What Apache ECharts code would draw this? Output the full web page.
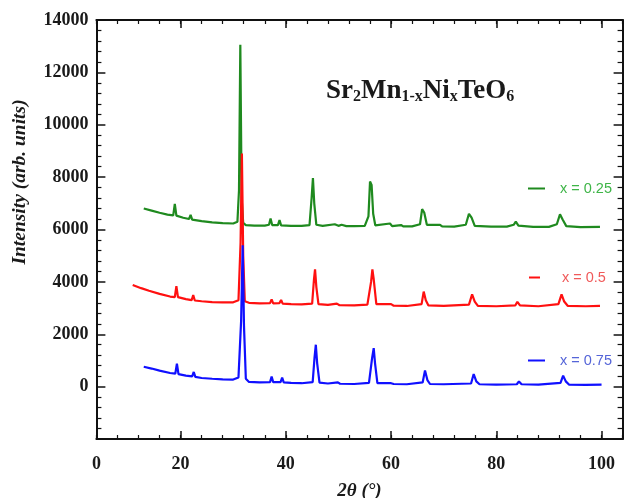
<!DOCTYPE html>
<html>
<head>
<meta charset="utf-8">
<script src="https://cdn.jsdelivr.net/npm/echarts@6/dist/echarts.min.js"></script>
<style>html,body{margin:0;padding:0;background:#fff}#c{width:629px;height:498px}</style>
</head>
<body>
<div id="c"></div>
<script>
// 2θ (deg), intensity pairs
const x025 = [[13.0,6800],[14.5,6720],[16,6640],[17.5,6570],[18.6,6540],[18.9,6980],[19.2,6530],[20.5,6450],[21.6,6400],[21.9,6560],[22.2,6380],[24,6320],[26,6270],[28,6240],[30,6230],[30.8,6300],[31.1,7500],[31.35,13050],[31.6,7200],[31.9,6250],[32.4,6170],[34,6150],[36,6150],[36.8,6180],[37.1,6420],[37.4,6170],[38.5,6170],[38.8,6360],[39.1,6160],[41,6140],[43,6140],[44.5,6170],[44.9,7200],[45.15,7960],[45.4,7000],[45.8,6180],[47,6140],[49.3,6200],[50,6140],[50.6,6180],[51.5,6130],[53,6130],[55,6140],[55.7,6500],[56.0,7830],[56.3,7700],[56.6,6600],[57,6160],[59.8,6230],[60.2,6130],[61.9,6170],[62.3,6120],[64,6120],[65.5,6200],[65.9,6780],[66.3,6650],[66.8,6180],[69.3,6180],[69.7,6120],[72,6110],[74.2,6180],[74.8,6600],[75.3,6450],[75.9,6140],[79,6110],[82,6110],[83.3,6180],[83.7,6300],[84.2,6150],[87,6100],[90,6100],[91.5,6200],[92.1,6580],[92.6,6380],[93.3,6130],[96,6090],[99.7,6100]];
const x050 = [[10.9,3880],[12.5,3760],[14,3660],[16,3540],[18,3440],[18.9,3420],[19.2,3840],[19.5,3420],[21,3340],[22.1,3300],[22.4,3500],[22.7,3290],[24,3260],[26,3230],[28,3220],[30,3220],[31,3300],[31.4,5500],[31.65,8900],[31.9,5000],[32.2,3260],[33,3200],[35,3180],[37.0,3190],[37.3,3330],[37.6,3180],[38.8,3190],[39.1,3310],[39.4,3170],[41,3150],[43,3140],[45,3170],[45.35,4100],[45.55,4480],[45.8,3800],[46.2,3150],[48,3120],[49.7,3170],[50.2,3110],[53,3100],[55.5,3130],[56.2,4000],[56.45,4480],[56.7,4100],[57.2,3150],[60,3150],[60.5,3090],[63,3080],[65.8,3150],[66.2,3630],[66.6,3300],[67.1,3100],[70,3080],[74.8,3130],[75.4,3520],[75.9,3250],[76.5,3080],[80,3070],[83.6,3100],[84.0,3240],[84.5,3100],[88,3070],[91.8,3150],[92.4,3520],[92.9,3250],[93.6,3080],[97,3070],[99.7,3080]];
const x075 = [[13,760],[14.5,690],[16,610],[18,520],[19.0,500],[19.3,880],[19.6,480],[21,420],[22.2,390],[22.5,560],[22.8,370],[24,330],[26,300],[28,280],[30,270],[31.0,350],[31.5,2500],[31.8,5400],[32.05,2300],[32.4,300],[33,180],[35,160],[37.0,170],[37.3,380],[37.6,170],[39.0,170],[39.3,340],[39.6,160],[41,140],[43,130],[45.1,170],[45.45,1100],[45.7,1600],[45.95,900],[46.4,150],[48,120],[49.9,160],[50.3,110],[53,100],[55.8,140],[56.4,1100],[56.7,1470],[56.95,900],[57.4,130],[60,130],[60.5,100],[63,90],[66.0,160],[66.45,620],[66.9,250],[67.4,100],[70,90],[75.2,120],[75.7,480],[76.2,200],[76.8,90],[80,80],[83.9,90],[84.3,200],[84.8,90],[88,80],[92.2,140],[92.7,420],[93.2,200],[93.8,80],[97,70],[100,80]];
const seriesNames = ['x = 0.25', 'x = 0.5', 'x = 0.75'];
const xLabelValues = [4, 20, 40, 60, 80, 100];
const xMajorTicks = [20, 40, 60, 80, 100];

const serif = '"Liberation Serif", "Times New Roman", serif';
const lineColors = ['#1f8a1f', '#ff1010', '#1010ff'];
const textColors = ['#3fb548', '#f05a5a', '#5565d8'];

const chart = echarts.init(document.getElementById('c'), null, {renderer: 'canvas'});
const axisLine = {show: true, onZero: false, lineStyle: {color: '#111', width: 2}};
const noLine = {show: false, onZero: false};
const baseX = {type: 'value', min: 4, max: 104, interval: 4, splitLine: {show: false}};
chart.setOption({
  animation: false,
  backgroundColor: '#fff',
  grid: {left: 96.4, right: 6.4, top: 20, bottom: 59, containLabel: false, outerBoundsMode: 'none'},
  xAxis: [
    Object.assign({}, baseX, {position: 'bottom', axisLine: axisLine,
      axisTick: {inside: true, length: 4, lineStyle: {color: '#111', width: 1.2}},
      axisLabel: {customValues: xLabelValues, margin: 16, color: '#1a1a1a', fontFamily: serif, fontWeight: 'bold', fontSize: 18,
        formatter: v => (v === 4 ? '0' : String(v))},
      name: '2θ (°)', nameLocation: 'middle', nameGap: 43,
      nameTextStyle: {fontFamily: serif, fontWeight: 'bold', fontStyle: 'italic', fontSize: 19, color: '#1a1a1a'}}),
    Object.assign({}, baseX, {position: 'bottom', axisLine: noLine,
      axisTick: {inside: true, length: 8, customValues: xMajorTicks, lineStyle: {color: '#111', width: 1.5}},
      axisLabel: {show: false}}),
    Object.assign({}, baseX, {position: 'top', axisLine: axisLine,
      axisTick: {inside: true, length: 4, lineStyle: {color: '#111', width: 1.2}},
      axisLabel: {show: false}}),
    Object.assign({}, baseX, {position: 'top', axisLine: noLine,
      axisTick: {inside: true, length: 8, customValues: xMajorTicks, lineStyle: {color: '#111', width: 1.5}},
      axisLabel: {show: false}})
  ],
  yAxis: [
    {type: 'value', min: -2000, max: 14000, interval: 2000, position: 'left', splitLine: {show: false},
      axisLine: axisLine,
      axisTick: {inside: true, length: 9, lineStyle: {color: '#111', width: 1.5}},
      minorTick: {show: true, splitNumber: 5, length: 5, lineStyle: {color: '#111', width: 1.2}},
      axisLabel: {margin: 8, color: '#1a1a1a', fontFamily: serif, fontWeight: 'bold', fontSize: 18,
        formatter: v => (v === -2000 ? '' : String(v))}},
    {type: 'value', min: -2000, max: 14000, interval: 2000, position: 'right', splitLine: {show: false},
      axisLine: axisLine,
      axisTick: {inside: true, length: 9, lineStyle: {color: '#111', width: 1.5}},
      minorTick: {show: true, splitNumber: 5, length: 5, lineStyle: {color: '#111', width: 1.2}},
      axisLabel: {show: false}}
  ],
  legend: [
    {data: [seriesNames[0]], left: 528, top: 181, padding: 0, icon: 'rect', itemWidth: 17, itemHeight: 2,
      textStyle: {color: textColors[0], fontFamily: '"Liberation Sans", sans-serif', fontSize: 14.5, padding: [0, 0, 0, 10]}},
    {data: [seriesNames[1]], left: 529, top: 270, padding: 0, icon: 'rect', itemWidth: 11, itemHeight: 2,
      textStyle: {color: textColors[1], fontFamily: '"Liberation Sans", sans-serif', fontSize: 14.5, padding: [0, 0, 0, 17]}},
    {data: [seriesNames[2]], left: 528, top: 353, padding: 0, icon: 'rect', itemWidth: 17, itemHeight: 2,
      textStyle: {color: textColors[2], fontFamily: '"Liberation Sans", sans-serif', fontSize: 14.5, padding: [0, 0, 0, 10]}}
  ],
  graphic: [
    {type: 'text', left: 326, top: 78, silent: true,
      style: {text: '{b|Sr}{s|2}{b|Mn}{s|1-x}{b|Ni}{s|x}{b|TeO}{s|6}',
        rich: {
          b: {fontFamily: serif, fontWeight: 'bold', fontSize: 27, fill: '#1a1a1a', verticalAlign: 'bottom', lineHeight: 29},
          s: {fontFamily: serif, fontWeight: 'bold', fontSize: 16, fill: '#1a1a1a', verticalAlign: 'bottom', lineHeight: 29}
        }}},
    {type: 'text', x: 20, y: 182, rotation: Math.PI / 2, silent: true,
      style: {text: 'Intensity (arb. units)', font: 'italic bold 19.5px "Liberation Serif"', fill: '#1a1a1a', align: 'center', verticalAlign: 'middle'}}
  ],
  series: [
    {name: seriesNames[0], type: 'line', xAxisIndex: 0, yAxisIndex: 0, data: x025, showSymbol: false, color: lineColors[0], lineStyle: {width: 2.2}},
    {name: seriesNames[1], type: 'line', xAxisIndex: 0, yAxisIndex: 0, data: x050, showSymbol: false, color: lineColors[1], lineStyle: {width: 2.2}},
    {name: seriesNames[2], type: 'line', xAxisIndex: 0, yAxisIndex: 0, data: x075, showSymbol: false, color: lineColors[2], lineStyle: {width: 2.2}}
  ]
});
</script>
</body>
</html>
